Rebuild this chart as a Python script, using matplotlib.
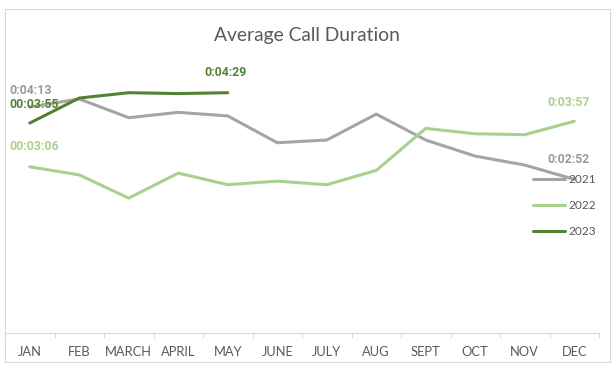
import numpy as np
import matplotlib
matplotlib.use("Agg")
import matplotlib.pyplot as plt
from matplotlib.patches import Rectangle

plt.rcParams['font.family'] = ['Lato', 'DejaVu Sans']

months = ["JAN", "FEB", "MARCH", "APRIL", "MAY", "JUNE", "JULY", "AUG",
          "SEPT", "OCT", "NOV", "DEC"]
# average call duration in seconds
dur_2021 = [253, 262, 241, 247, 243, 213, 216, 245, 216, 198, 188, 172]
dur_2022 = [186, 177, 151, 179, 166, 170, 166, 182, 229, 223, 222, 237]
dur_2023 = [235, 263, 269, 268, 269]

c21 = '#A5A5A5'
c22 = '#A9D18E'
c23 = '#548235'
txt = '#595959'

W, H = 616, 370
fig = plt.figure(figsize=(W / 100, H / 100), dpi=100)

# chart frame
fig.patches.append(Rectangle((5 / W, (H - 362) / H), 605 / W, 353 / H,
                             transform=fig.transFigure, fill=False,
                             edgecolor='#D9D9D9', lw=0.8))

ax = fig.add_axes([5 / W, (H - 333) / H, 594 / W, 268 / H])
x = np.arange(len(months))
ax.plot(x, dur_2021, color=c21, lw=2.2, label='2021', solid_capstyle='round')
ax.plot(x, dur_2022, color=c22, lw=2.2, label='2022', solid_capstyle='round')
ax.plot(x[:len(dur_2023)], dur_2023, color=c23, lw=2.2, label='2023',
        solid_capstyle='round')

ax.set_xlim(-0.5, 11.5)
ax.set_ylim(0, 300)
ax.set_yticks([])
for s in ['left', 'right', 'top']:
    ax.spines[s].set_visible(False)
ax.spines['bottom'].set_color('#D9D9D9')
ax.spines['bottom'].set_linewidth(0.8)

ax.set_xticks(x)
ax.set_xticklabels(months, color=txt, fontsize=9.3)
ax.tick_params(axis='x', which='major', length=0, pad=9)
ax.set_xticks(np.arange(-0.5, 12, 1), minor=True)
ax.tick_params(axis='x', which='minor', length=3.6, color='#D9D9D9', width=0.8)


def fmt(sec, lead=False):
    m, s = divmod(int(sec), 60)
    h = '00' if lead else '0'
    return f"{h}:{m:02d}:{s:02d}"


def label(i, val, text, color, dx, dy):
    ax.annotate(text, (i, val), xytext=(dx, dy), textcoords='offset pixels',
                ha='center', va='center', color=color, fontsize=8.8,
                fontweight='bold', family=['Roboto', 'DejaVu Sans'])


label(0, dur_2021[0], fmt(dur_2021[0]), '#999999', 1, 16)
label(0, dur_2023[0], fmt(dur_2023[0], True), c23, 4, 19)
label(0, dur_2022[0], fmt(dur_2022[0], True), c22, 4, 20)
label(4, dur_2023[4], fmt(dur_2023[4]), c23, -2, 20)
label(11, dur_2022[11], fmt(dur_2022[11]), c22, -6, 19)
label(11, dur_2021[11], fmt(dur_2021[11]), '#999999', -6, 20)

fig.text(307 / W, 1 - 35 / H, "Average Call Duration", ha='center',
         va='center', color=txt, fontsize=13.9)

fig.legend(loc='upper left', bbox_to_anchor=(522 / W, 1 - 163 / H),
           frameon=False, fontsize=8.6, labelcolor=txt, handlelength=2.7,
           handletextpad=0.3, labelspacing=1.27)

fig.savefig('out.png', dpi=100)
